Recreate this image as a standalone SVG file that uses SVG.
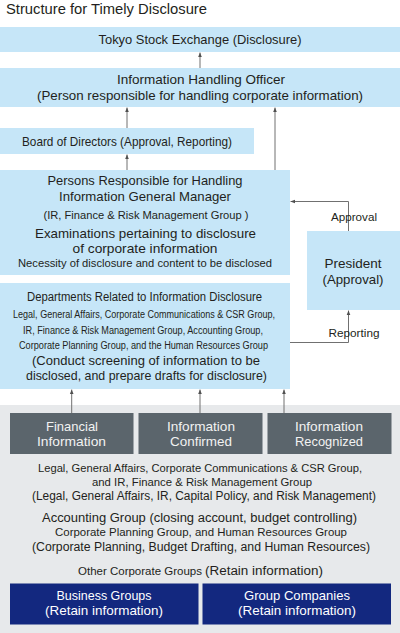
<svg xmlns="http://www.w3.org/2000/svg" width="400" height="633" viewBox="0 0 400 633">
<style>
text{font-family:"Liberation Sans","Noto Sans",sans-serif;fill:#231f20;}
.c{text-anchor:middle;}
.b{fill:#c6e6f8;}
.g{fill:#5b656c;}
.n{fill:#13287f;}
.w{fill:#ffffff;}
.lg{fill:#f2f2f2;}
.m{font-size:12.8px;}
.s{font-size:10.8px;}
.xs{font-size:10px;}
.conn line,.conn path{stroke:#707070;stroke-width:1;fill:none;}
</style>
<defs>
<marker id="ah" viewBox="0 0 6 6" refX="6" refY="3" markerUnits="userSpaceOnUse" markerWidth="4.5" markerHeight="4.5" orient="auto">
<path d="M0,0.6 L6,3 L0,5.4 z" fill="#505050"/>
</marker>
</defs>
<rect x="0" y="0" width="400" height="633" fill="#ffffff"/>
<text x="6" y="14" style="font-size:14.5px" textLength="201" lengthAdjust="spacingAndGlyphs">Structure for Timely Disclosure</text>

<rect id="bg" x="0" y="405" width="400" height="228" fill="#e7e9eb"/>

<g id="tse">
<rect class="b" x="0" y="27" width="400" height="25"/>
<text class="c" style="font-size:13.5px" x="200" y="44" textLength="203" lengthAdjust="spacingAndGlyphs">Tokyo Stock Exchange (Disclosure)</text>
</g>

<g id="iho">
<rect class="b" x="0" y="68" width="400" height="39"/>
<text class="c" style="font-size:13.2px" x="201" y="83.5" textLength="168" lengthAdjust="spacingAndGlyphs">Information Handling Officer</text>
<text class="c" style="font-size:13.2px" x="200" y="99.5" textLength="326" lengthAdjust="spacingAndGlyphs">(Person responsible for handling corporate information)</text>
</g>

<g id="board">
<rect class="b" x="0" y="128" width="254" height="26"/>
<text class="c" style="font-size:13.2px" x="127" y="146" textLength="210" lengthAdjust="spacingAndGlyphs">Board of Directors (Approval, Reporting)</text>
</g>

<g id="persons">
<rect class="b" x="0" y="170" width="290" height="105"/>
<text class="c m" x="145" y="185.3" textLength="195" lengthAdjust="spacingAndGlyphs">Persons Responsible for Handling</text>
<text class="c m" x="145" y="201.3" textLength="172" lengthAdjust="spacingAndGlyphs">Information General Manager</text>
<text class="c s" x="146" y="219" textLength="205" lengthAdjust="spacingAndGlyphs">(IR, Finance &amp; Risk Management Group )</text>
<text class="c m" x="145.5" y="238" textLength="221" lengthAdjust="spacingAndGlyphs">Examinations pertaining to disclosure</text>
<text class="c m" x="145" y="252.5" textLength="145" lengthAdjust="spacingAndGlyphs">of corporate information</text>
<text class="c s" x="145" y="267" textLength="254" lengthAdjust="spacingAndGlyphs">Necessity of disclosure and content to be disclosed</text>
</g>

<g id="president">
<rect class="b" x="307" y="231" width="93" height="79"/>
<text class="c m" x="353" y="268" textLength="57" lengthAdjust="spacingAndGlyphs">President</text>
<text class="c m" x="353" y="284" textLength="61" lengthAdjust="spacingAndGlyphs">(Approval)</text>
</g>

<g id="departments">
<rect class="b" x="0" y="283" width="290" height="106"/>
<text class="c" style="font-size:12px" x="144.5" y="301" textLength="235" lengthAdjust="spacingAndGlyphs">Departments Related to Information Disclosure</text>
<text class="c xs" x="144" y="318" textLength="262" lengthAdjust="spacingAndGlyphs">Legal, General Affairs, Corporate Communications &amp; CSR Group,</text>
<text class="c xs" x="143" y="334" textLength="240" lengthAdjust="spacingAndGlyphs">IR, Finance &amp; Risk Management Group, Accounting Group,</text>
<text class="c xs" x="143.5" y="349" textLength="249" lengthAdjust="spacingAndGlyphs">Corporate Planning Group, and the Human Resources Group</text>
<text class="c m" x="146" y="364.5" textLength="228" lengthAdjust="spacingAndGlyphs">(Conduct screening of information to be</text>
<text class="c m" x="146.5" y="380" textLength="241" lengthAdjust="spacingAndGlyphs">disclosed, and prepare drafts for disclosure)</text>
</g>

<g id="financial">
<rect class="g" x="10" y="413" width="123.5" height="41"/>
<text class="c lg" style="font-size:13.5px" x="72" y="431" textLength="52" lengthAdjust="spacingAndGlyphs">Financial</text>
<text class="c lg" style="font-size:13.5px" x="71.5" y="446" textLength="69" lengthAdjust="spacingAndGlyphs">Information</text>
</g>

<g id="confirmed">
<rect class="g" x="138.5" y="413" width="124" height="41"/>
<text class="c lg" style="font-size:13.5px" x="201" y="431" textLength="68" lengthAdjust="spacingAndGlyphs">Information</text>
<text class="c lg" style="font-size:13.5px" x="201" y="446" textLength="62" lengthAdjust="spacingAndGlyphs">Confirmed</text>
</g>

<g id="recognized">
<rect class="g" x="267.5" y="413" width="124" height="41"/>
<text class="c lg" style="font-size:13.5px" x="329" y="431" textLength="68" lengthAdjust="spacingAndGlyphs">Information</text>
<text class="c lg" style="font-size:13.5px" x="329" y="446" textLength="68" lengthAdjust="spacingAndGlyphs">Recognized</text>
</g>

<g id="groups-text">
<text class="c" style="font-size:11.8px" x="200" y="471.5" textLength="324" lengthAdjust="spacingAndGlyphs">Legal, General Affairs, Corporate Communications &amp; CSR Group,</text>
<text class="c" style="font-size:11.8px" x="202" y="485.5" textLength="220" lengthAdjust="spacingAndGlyphs">and IR, Finance &amp; Risk Management Group</text>
<text class="c" style="font-size:12.3px" x="204" y="500" textLength="344" lengthAdjust="spacingAndGlyphs">(Legal, General Affairs, IR, Capital Policy, and Risk Management)</text>
<text class="c" style="font-size:12.3px" x="199.5" y="522" textLength="315" lengthAdjust="spacingAndGlyphs">Accounting Group (closing account, budget controlling)</text>
<text class="c" style="font-size:11.8px" x="201" y="536" textLength="292" lengthAdjust="spacingAndGlyphs">Corporate Planning Group, and Human Resources Group</text>
<text class="c" style="font-size:12.3px" x="201" y="551" textLength="338" lengthAdjust="spacingAndGlyphs">(Corporate Planning, Budget Drafting, and Human Resources)</text>
<text y="575"><tspan x="78" style="font-size:11px" textLength="124" lengthAdjust="spacingAndGlyphs">Other Corporate Groups</tspan><tspan x="205" style="font-size:12.5px" textLength="118" lengthAdjust="spacingAndGlyphs">(Retain information)</tspan></text>
</g>

<g id="business">
<rect class="n" x="10" y="583.5" width="188.5" height="41"/>
<text class="c w" style="font-size:13.5px" x="104" y="600" textLength="95" lengthAdjust="spacingAndGlyphs">Business Groups</text>
<text class="c w" style="font-size:13.5px" x="104" y="615" textLength="118" lengthAdjust="spacingAndGlyphs">(Retain information)</text>
</g>

<g id="companies">
<rect class="n" x="202.5" y="583.5" width="188.5" height="41"/>
<text class="c w" style="font-size:13.5px" x="297" y="600" textLength="106" lengthAdjust="spacingAndGlyphs">Group Companies</text>
<text class="c w" style="font-size:13.5px" x="297" y="615" textLength="118" lengthAdjust="spacingAndGlyphs">(Retain information)</text>
</g>

<g id="connectors" class="conn">
<line x1="200" y1="68" x2="200" y2="52.5" marker-end="url(#ah)"/>
<line x1="127" y1="128" x2="127" y2="107.5" marker-end="url(#ah)"/>
<line x1="275" y1="170" x2="275" y2="107.5" marker-end="url(#ah)"/>
<line x1="127" y1="170" x2="127" y2="154.5" marker-end="url(#ah)"/>
<path d="M348.5,231 V201.5 H290.5" marker-end="url(#ah)"/>
<path d="M290,342.5 H348.5 V310.5" marker-end="url(#ah)"/>
<line x1="71.7" y1="413" x2="71.7" y2="389.5" marker-end="url(#ah)"/>
<line x1="200" y1="413" x2="200" y2="389.5" marker-end="url(#ah)"/>
<line x1="284" y1="413" x2="284" y2="389.5" marker-end="url(#ah)"/>
</g>

<g id="labels">
<text class="c s" x="354" y="221" textLength="46" lengthAdjust="spacingAndGlyphs">Approval</text>
<text class="c s" x="354" y="337" textLength="51" lengthAdjust="spacingAndGlyphs">Reporting</text>
</g>
</svg>
